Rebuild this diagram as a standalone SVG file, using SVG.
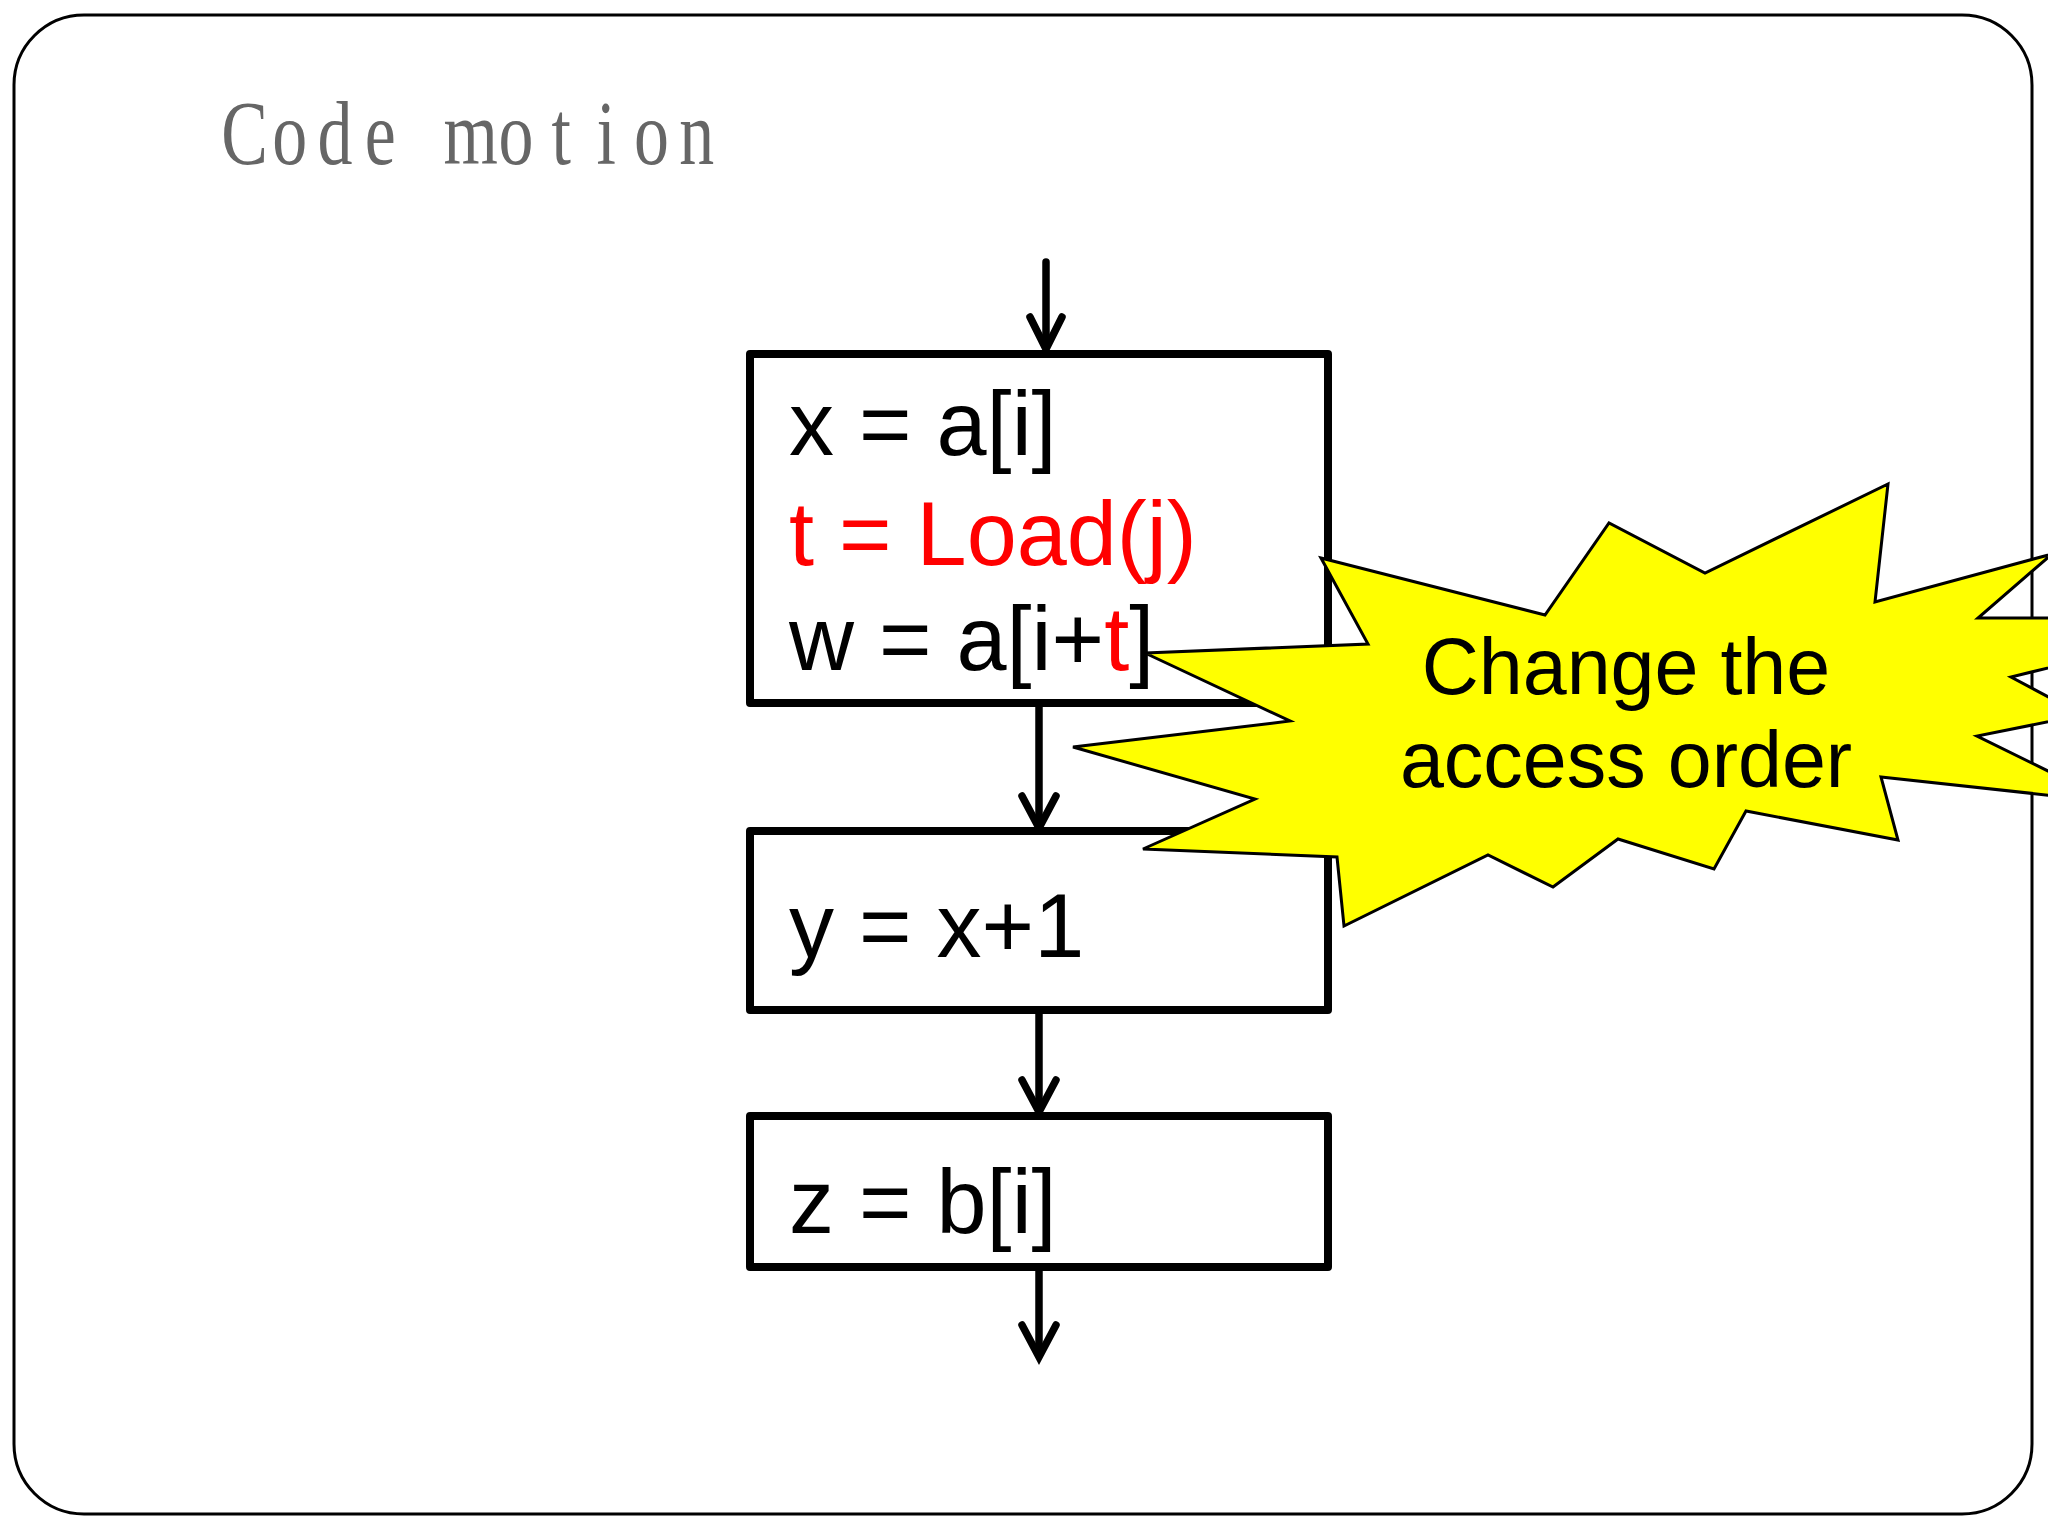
<svg xmlns="http://www.w3.org/2000/svg" width="2048" height="1536" viewBox="0 0 2048 1536">
  <style>
    .frame { fill: #ffffff; stroke: #000000; stroke-width: 3; }
    .title { font-family: "Liberation Serif", "Times New Roman", serif; font-size: 92px; fill: #666666; text-anchor: middle; }
    .box { fill: #ffffff; stroke: #000000; stroke-width: 8; stroke-linejoin: round; }
    .code { font-family: "Liberation Sans", Arial, sans-serif; font-size: 90px; fill: #000000; }
    .red { fill: #ff0000; }
    .edge { fill: none; stroke: #000000; stroke-width: 7.5; stroke-linecap: round; stroke-linejoin: miter; }
    .star { fill: #ffff00; stroke: #000000; stroke-width: 3; stroke-linejoin: miter; }
    .note { font-family: "Liberation Sans", Arial, sans-serif; font-size: 79px; fill: #000000; text-anchor: middle; }
  </style>
  <rect class="frame" x="14" y="15" width="2018" height="1499" rx="70" ry="70"/>
  <text class="title" transform="translate(222,164) scale(0.76,1)" x="29.7 89.2 148.7 208.2 267.7 327.2 386.7 446.2 505.7 565.2 624.7">Code motion</text>

  <g id="connectors">
    <line class="edge" x1="1046" y1="262" x2="1046" y2="346"/>
    <polyline class="edge" points="1030,317 1046,349 1062,317"/>
    <line class="edge" x1="1039" y1="706" x2="1039" y2="826"/>
    <polyline class="edge" points="1022,796 1039,828 1056,796"/>
    <line class="edge" x1="1039" y1="1013" x2="1039" y2="1110"/>
    <polyline class="edge" points="1022,1080 1039,1112 1056,1080"/>
    <line class="edge" x1="1039" y1="1270" x2="1039" y2="1354"/>
    <polyline class="edge" points="1022,1325 1039,1357 1056,1325"/>
  </g>

  <g id="node-block1">
    <rect class="box" x="750" y="354" width="578" height="349"/>
    <text class="code" x="789" y="455">x = a[i]</text>
    <text class="code red" x="789" y="565">t = Load(j)</text>
    <text class="code" x="789" y="670">w = a[i+<tspan class="red">t</tspan>]</text>
  </g>

  <g id="node-block2">
    <rect class="box" x="750" y="831" width="578" height="179"/>
    <text class="code" x="789" y="957">y = x+1</text>
  </g>

  <g id="node-block3">
    <rect class="box" x="750" y="1116" width="578" height="151"/>
    <text class="code" x="789" y="1233">z = b[i]</text>
  </g>

  <g id="node-callout">
    <polygon class="star" points="1321,558 1545,615 1609,523 1705,573 1888,484 1875,602 2052,554 1978,618 2254,618 2011,677 2082,715 1977,736 2111,802 1881,777 1898,840 1746,811 1714,869 1618,839 1553,887 1488,855 1344,926 1337,857 1143,849 1255,799 1073,747 1290,721 1145,653 1368,644"/>
    <text class="note" x="1626" y="694">Change the</text>
    <text class="note" x="1626" y="787">access order</text>
  </g>
</svg>
